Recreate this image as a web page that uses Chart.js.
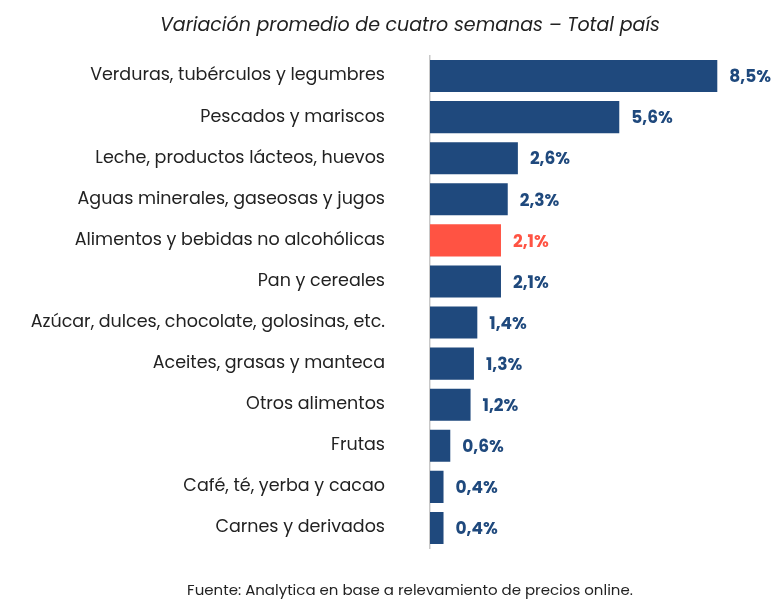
<!DOCTYPE html>
<html><head><meta charset="utf-8">
<script src="https://cdn.jsdelivr.net/npm/chart.js@4/dist/chart.umd.min.js"></script>
<style>html,body{margin:0;padding:0;background:#fff;overflow:hidden}</style>
</head><body><canvas id="c" width="778" height="604" style="width:778px;height:604px;display:block"></canvas>
<script>
const categories = ["Verduras, tubérculos y legumbres","Pescados y mariscos","Leche, productos lácteos, huevos","Aguas minerales, gaseosas y jugos","Alimentos y bebidas no alcohólicas","Pan y cereales","Azúcar, dulces, chocolate, golosinas, etc.","Aceites, grasas y manteca","Otros alimentos","Frutas","Café, té, yerba y cacao","Carnes y derivados"];
const values = [8.5,5.6,2.6,2.3,2.1,2.1,1.4,1.3,1.2,0.6,0.4,0.4];
const highlight = "Alimentos y bebidas no alcohólicas";
const titleText = "Variación promedio de cuatro semanas – Total país";
const footerText = "Fuente: Analytica en base a relevamiento de precios online.";
const BLUE="#1f497d", RED="#ff5343";
const colors = categories.map(c=>c===highlight?RED:BLUE);
const FONT = "Poppins, Inter, 'Open Sans', sans-serif";
const labelPlugin = {id:'vals',afterDraw(chart){
  const ctx=chart.ctx, meta=chart.getDatasetMeta(0);
  ctx.save(); ctx.font="bold 17px "+FONT; ctx.textBaseline='middle'; ctx.textAlign='left';
  meta.data.forEach((b,i)=>{ctx.fillStyle=colors[i];
    ctx.fillText(values[i].toFixed(1).replace('.',',')+'%', b.x+12, b.y+2);});
  ctx.fillStyle='#222'; ctx.textAlign='center';
  ctx.font="italic 19px "+FONT; ctx.fillText(titleText,410,26);
  ctx.font="15px "+FONT; ctx.fillText(footerText,410,591);
  ctx.restore();}};
new Chart(document.getElementById('c'),{type:'bar',
 data:{labels:categories,datasets:[{data:values,backgroundColor:colors,barPercentage:0.78,categoryPercentage:1}]},
 options:{indexAxis:'y',responsive:false,animation:false,devicePixelRatio:1,
  layout:{padding:{right:10,top:51,bottom:25}},
  plugins:{legend:{display:false},tooltip:{enabled:false}},
  scales:{x:{min:0,max:10,display:false},
   y:{afterFit(s){s.width=430;},grid:{display:false,drawTicks:false},border:{color:'#c8c8c8',width:1.5},
      ticks:{color:'#222',padding:45,font:{family:FONT,size:17.5}}}}},
 plugins:[labelPlugin]});
</script></body></html>
